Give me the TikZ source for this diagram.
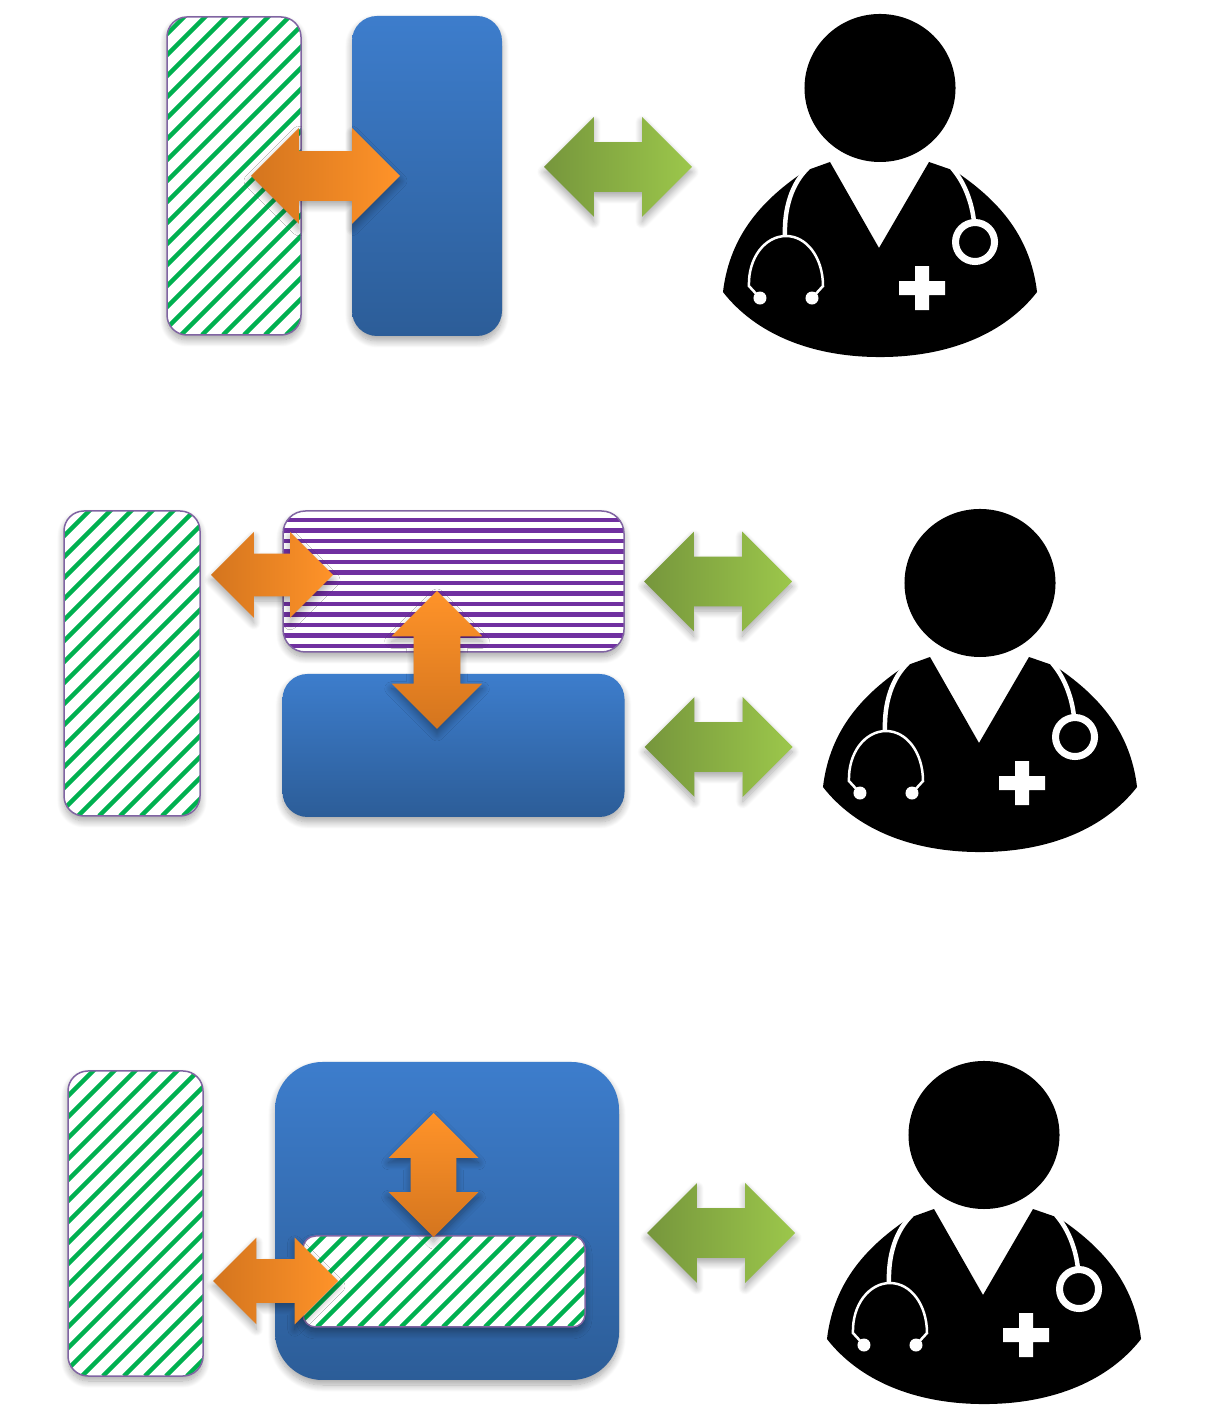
\documentclass[tikz,border=0pt]{standalone}
\usepackage{xcolor}
\usepackage{tikz}
\usetikzlibrary{positioning,calc,shapes.arrows,shadows.blur}
\definecolor{rayaverde}{RGB}{0,176,80}
\definecolor{rayamorada}{RGB}{112,48,160}
\definecolor{borde}{RGB}{128,100,162}
\definecolor{azularriba}{RGB}{61,125,204}
\definecolor{azulabajo}{RGB}{44,93,152}
\definecolor{naranjaclaro}{RGB}{255,147,41}
\definecolor{naranjaoscuro}{RGB}{212,117,30}
\definecolor{verdeclaro}{RGB}{156,199,75}
\definecolor{verdeoscuro}{RGB}{118,150,60}
\tikzset{
  sombra/.style={blur shadow={shadow xshift=0cm, shadow yshift=-.1cm, shadow blur steps=10, shadow blur radius=.14cm, shadow opacity=35}},
  caja/.style={rectangle, inner sep=0pt, outer sep=0pt, sombra},
  hatchgreen/.style={caja, draw=borde, line width=.03cm, fill=white, rounded corners=.4cm,
    path picture={\foreach \k in {0,...,60}
      \draw[rayaverde, line width=.09cm]
        ($(path picture bounding box.south west)+(\k*.42cm-14cm,0)$) -- ++(16cm,16cm);}},
  hatchpurple/.style={caja, draw=borde, line width=.03cm, fill=white, rounded corners=.45cm,
    path picture={\foreach \k in {0,...,12}
      \draw[rayamorada, line width=.09cm]
        ($(path picture bounding box.south west)+(0,\k*.21cm+.12cm)$) -- ++(8cm,0);}},
  bluebox/.style={caja, top color=azularriba, bottom color=azulabajo, rounded corners=.5cm},
  dblarrow/.style={double arrow, double arrow tip angle=90, outer sep=0pt, sombra},
  greenarrow/.style={dblarrow, left color=verdeoscuro, right color=verdeclaro, inner sep=.49cm,
    minimum height=2.96cm, double arrow head extend=.5cm},
  orangeh/.style={dblarrow, left color=naranjaoscuro, right color=naranjaclaro},
  orangev/.style={dblarrow, shape border rotate=90, top color=naranjaclaro, bottom color=naranjaoscuro},
  pics/doctor/.style={code={
    \begin{scope}[x=.02cm,y=-.02cm]
      \fill[black] (0,0) ellipse[x radius=75.5, y radius=74];
      \fill[black] (-157,204) .. controls (-150,145) and (-115,110) .. (-75,83) -- (-50,74) -- (-1,160)
        -- (49,74) -- (75,83) .. controls (115,110) and (150,145) .. (157,204)
        .. controls (125,245) and (70,269) .. (0,269) .. controls (-70,269) and (-125,245) .. (-157,204) -- cycle;
      \draw[white, line width=.09cm] (-72,80) .. controls (-88,95) and (-96,120) .. (-95,148);
      \draw[white, line width=.09cm] (72,80) .. controls (85,95) and (92,115) .. (94,134);
      \draw[white, line width=.05cm] (-120,210) -- (-131,198) .. controls (-132,170) and (-115,148) .. (-94,148)
        .. controls (-73,148) and (-57,170) .. (-57,198) -- (-68,210);
      \fill[white] (-120,210) circle[radius=6.5] (-68,210) circle[radius=6.5];
      \draw[white, line width=.14cm] (95,154) circle[radius=19.5];
      \fill[white] (19,193) rectangle (65,207) (35,178) rectangle (49,222);
    \end{scope}
  }}
}
\begin{document}
\begin{tikzpicture}
  \useasboundingbox (0,0) rectangle (24.38,28.12);
  % fila de arriba
  \node[hatchgreen, minimum width=2.68cm, minimum height=6.36cm] (hatchA) at (4.68,24.6) {};
  \node[bluebox, minimum width=3cm, minimum height=6.4cm, right=1.02cm of hatchA] (blueA) {};
  \node[orangeh, minimum height=2.98cm, inner sep=.49cm, double arrow head extend=.46cm,
        right=-1cm of hatchA] (orangeA) {};
  \node[greenarrow, right=.84cm of blueA, yshift=.18cm] (greenA) {};
  \pic (docA) at (17.6,26.36) {doctor};
  % fila del medio
  \node[hatchgreen, minimum width=2.72cm, minimum height=6.1cm] (hatchB) at (2.64,14.85) {};
  \node[hatchpurple, minimum width=6.82cm, minimum height=2.82cm] (purpleB) at (9.07,16.49) {};
  \node[bluebox, minimum width=6.84cm, minimum height=2.86cm, below=.44cm of purpleB] (blueB) {};
  \node[orangeh, minimum height=2.44cm, inner sep=.42cm, double arrow head extend=.43cm] (orangeB) at (5.44,16.62) {};
  \node[orangev, minimum height=2.76cm, inner sep=.46cm, double arrow head extend=.44cm] (orangeBv) at (8.74,14.92) {};
  \node[greenarrow, right=.4cm of purpleB] (greenB) {};
  \node[greenarrow, right=.4cm of blueB, yshift=-.03cm] (greenBb) {};
  \pic (docB) at (19.6,16.46) {doctor};
  % fila de abajo
  \node[hatchgreen, minimum width=2.7cm, minimum height=6.1cm] (hatchC) at (2.71,3.65) {};
  \node[bluebox, rounded corners=.95cm, minimum width=6.88cm, minimum height=6.36cm] (blueC) at (8.94,3.7) {};
  \node[hatchgreen, rounded corners=.25cm, minimum width=5.64cm, minimum height=1.82cm] (hatchCi) at (8.88,2.49) {};
  \node[orangev, minimum height=2.48cm, inner sep=.45cm, double arrow head extend=.44cm] (orangeCv) at (8.67,4.62) {};
  \node[orangeh, minimum height=2.5cm, inner sep=.43cm, double arrow head extend=.43cm] (orangeC) at (5.51,2.5) {};
  \node[greenarrow, right=.56cm of blueC, yshift=-.24cm] (greenC) {};
  \pic (docC) at (19.68,5.42) {doctor};
\end{tikzpicture}
\end{document}
